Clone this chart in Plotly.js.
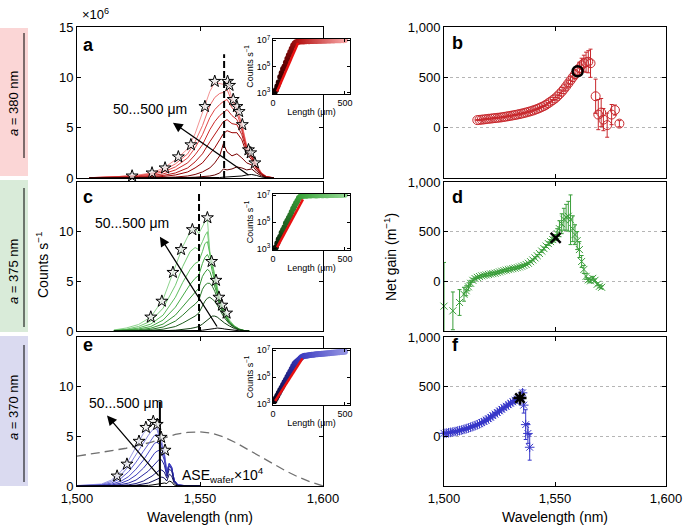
<!DOCTYPE html>
<html>
<head>
<meta charset="utf-8">
<script src="https://cdn.plot.ly/plotly-3.0.1.min.js"></script>
<style>body{margin:0;} #plotlyArea{width:685px;height:529px;}</style>
</head>
<body>
<div id="plotlyArea"></div>
<script>
// ---- spectra, left column (counts s^-1, x 1e6) ----
var wlA = [1505,1510,1515,1520,1525,1530,1535,1540,1545,1548,1551,1554,1556,1558,1559.5,1561,1563,1565,1567,1569,1571,1573,1575,1577,1580];
var specA = [
  [0,0,0,0,0,0,0,0,0,0,0.01,0.02,0.03,0.05,0.08,0.1,0.12,0.15,0.2,0.3,0.35,0.25,0.1,0.03,0],
  [0,0,0,0,0,0.01,0.02,0.03,0.05,0.08,0.12,0.2,0.3,0.5,0.9,0.8,0.9,1.1,1.0,0.8,0.9,0.5,0.2,0.05,0],
  [0,0,0,0.01,0.02,0.03,0.05,0.1,0.2,0.35,0.6,1.0,1.5,2.2,3.4,2.6,2.2,2.4,2.0,1.5,1.3,0.7,0.3,0.08,0],
  [0,0.01,0.02,0.03,0.05,0.08,0.15,0.3,0.6,1.0,1.5,2.4,3.0,3.8,4.4,4.7,4.5,4.5,3.8,2.4,1.8,0.9,0.35,0.1,0.01],
  [0.01,0.02,0.04,0.06,0.1,0.15,0.25,0.5,1.0,1.6,2.4,3.6,4.3,5.0,5.6,5.8,5.4,5.3,4.3,2.7,2.0,1.0,0.4,0.1,0.01],
  [0.02,0.04,0.07,0.1,0.15,0.25,0.4,0.8,1.5,2.3,3.3,4.8,5.6,6.2,6.5,6.8,6.2,5.8,4.7,2.9,2.1,1.1,0.45,0.12,0.02],
  [0.03,0.06,0.1,0.15,0.22,0.35,0.6,1.1,2.0,3.0,4.3,6.0,6.8,7.3,7.6,7.8,7.0,6.4,5.0,3.0,2.2,1.1,0.45,0.12,0.02],
  [0.03,0.07,0.11,0.18,0.27,0.42,0.75,1.4,2.4,3.6,5.2,7.2,8.0,8.4,8.5,8.8,7.6,6.8,5.3,3.1,2.3,1.2,0.5,0.15,0.02],
  [0.03,0.06,0.1,0.2,0.3,0.5,0.95,1.8,2.9,4.4,6.4,8.6,9.5,9.4,9.3,9.6,7.9,7.0,5.4,3.2,2.3,1.3,0.5,0.15,0.02]
];
var starWlA = [1522.4,1530.5,1535.8,1541.2,1546.3,1552,1556,1561.2,1562,1563.5,1565,1565.9,1567.2,1569.7,1570.6,1572.3];
var starA = [0.2,0.5,1.0,2.1,3.3,7.1,9.6,9.6,9.2,7.8,7.1,6.6,5.3,2.8,2.5,1.5];

var wlC = [1515,1520,1525,1530,1535,1540,1543,1546,1548,1549.5,1551,1552,1553,1554,1555,1556,1557,1558,1559,1560,1562,1564,1566,1568,1570];
var specC = [
  [0,0,0,0,0,0,0.01,0.02,0.03,0.05,0.08,0.1,0.12,0.15,0.2,0.25,0.3,0.3,0.25,0.2,0.12,0.06,0.02,0,0],
  [0,0,0,0.01,0.03,0.08,0.15,0.25,0.35,0.45,0.7,0.9,1.1,1.3,1.5,1.5,1.4,1.2,1.0,0.8,0.5,0.25,0.1,0.02,0],
  [0,0.01,0.03,0.07,0.18,0.45,0.8,1.2,1.5,1.8,2.6,3.0,3.3,3.4,3.2,3.0,2.6,2.1,1.7,1.3,0.7,0.35,0.12,0.02,0],
  [0.01,0.03,0.07,0.16,0.4,1.0,1.6,2.3,2.7,3.1,4.2,4.6,4.8,4.8,4.5,4.0,3.3,2.6,2.0,1.5,0.8,0.4,0.15,0.03,0],
  [0.02,0.05,0.12,0.28,0.7,1.6,2.5,3.4,3.9,4.3,5.5,5.9,6.2,6.0,5.3,4.6,3.7,2.8,2.2,1.6,0.85,0.4,0.15,0.03,0],
  [0.03,0.08,0.2,0.45,1.1,2.4,3.6,4.7,5.3,5.6,6.8,7.4,7.7,7.2,6.0,5.0,4.0,2.9,2.3,1.7,0.9,0.45,0.18,0.04,0],
  [0.05,0.12,0.3,0.7,1.6,3.4,4.9,6.2,6.8,7.0,8.0,8.8,9.0,7.6,6.5,5.3,4.2,3.0,2.4,1.8,0.9,0.45,0.18,0.04,0],
  [0.07,0.18,0.45,1.0,2.3,4.6,6.5,8.0,8.4,8.2,9.0,9.6,10.0,7.8,6.8,5.5,4.4,3.1,2.5,1.9,1.0,0.5,0.2,0.05,0],
  [0.1,0.3,0.65,1.4,3.2,6.5,8.5,10.0,10.3,9.8,10.5,11.0,11.3,8.0,6.8,5.6,4.6,3.3,2.6,2.0,1.1,0.5,0.2,0.05,0]
];
var starWlC = [1530,1534.5,1539,1542.3,1546.9,1553,1554.7,1556.5,1557.7,1558.9,1560.8];
var starC = [1.4,3.0,5.9,8.2,10.2,11.4,7.0,5.1,3.4,2.6,1.8];

var wlE = [1500,1510,1514,1518,1521,1524,1527,1529,1530.5,1531.5,1532.5,1533.5,1534.5,1535.5,1536.5,1537.5,1538.5,1539.5,1541,1545,1550];
var specE = [
  [0,0,0,0,0,0.01,0.03,0.06,0.1,0.15,0.2,0.25,0.3,0.3,0.25,0.5,0.4,0.1,0.02,0,0],
  [0,0,0,0.02,0.04,0.08,0.2,0.3,0.45,0.55,0.7,0.8,0.9,0.8,0.5,1.2,1.0,0.3,0.04,0,0],
  [0,0,0.02,0.06,0.12,0.25,0.5,0.75,1.0,1.2,1.4,1.6,1.6,1.4,0.8,1.7,1.5,0.45,0.06,0,0],
  [0,0.01,0.05,0.15,0.3,0.6,1.1,1.5,1.9,2.2,2.5,2.7,2.6,2.1,1.0,2.0,1.7,0.5,0.08,0.01,0],
  [0,0.03,0.1,0.3,0.6,1.1,1.8,2.4,2.9,3.3,3.5,3.6,3.3,2.6,1.2,2.2,1.8,0.6,0.1,0.01,0],
  [0.01,0.06,0.18,0.5,0.95,1.7,2.6,3.3,3.9,4.3,4.4,4.2,3.8,2.9,1.3,2.3,1.9,0.6,0.1,0.02,0],
  [0.02,0.1,0.3,0.8,1.45,2.4,3.5,4.2,4.8,5.1,5.2,4.6,4.1,3.1,1.4,2.3,1.9,0.6,0.1,0.02,0],
  [0.03,0.15,0.45,1.15,2.0,3.2,4.4,5.1,5.6,5.8,5.7,4.9,4.3,3.3,1.5,2.2,1.8,0.6,0.1,0.02,0],
  [0.05,0.2,0.6,1.5,2.6,4.0,5.3,5.9,6.3,6.2,6.0,5.2,4.5,3.4,1.5,2.2,1.8,0.6,0.1,0.02,0]
];
var starWlE = [1516.3,1520.3,1525.2,1528,1531,1532.6,1534.2,1535.8];
var starE = [1.0,2.2,4.5,5.9,6.5,6.2,4.9,3.6];

var aseWl = [1500,1505,1510,1515,1520,1525,1530,1535,1540,1545,1550,1555,1560,1565,1570,1575,1580,1585,1590,1595,1600];
var aseE = [3.0,3.2,3.4,3.6,3.8,4.1,4.4,4.8,5.2,5.4,5.45,5.3,4.9,4.3,3.6,2.9,2.2,1.5,0.9,0.4,0];

var laserWl = [1559.8, 1549.6, 1533.7];
var laserTop = [12.3, 14, 8.5];

// ---- insets: log10 counts vs length ----
var lenUm = [10,20,30,40,50,60,70,80,90,100,110,120,130,140,150,160,170,180,190,200,210,220,230,240,250,260,270,280,290,300,310,320,330,340,350,360,370,380,390,400,410,420,430,440,450,460,470,480,490,500];
var logA = [3.0,3.2,3.5,3.8,4.2,4.5,4.8,5.0,5.3,5.6,5.85,6.1,6.35,6.6,6.75,6.85,6.88,6.9,6.9,6.92,6.91,6.93,6.92,6.94,6.93,6.95,6.94,6.95,6.96,6.95,6.96,6.97,6.96,6.97,6.98,6.97,6.98,6.99,6.98,6.99,7.0,6.99,7.0,7.0,7.01,7.0,7.01,7.02,7.01,7.02];
var logC = [3.0,3.1,3.4,3.7,3.9,4.2,4.4,4.6,4.9,5.1,5.3,5.5,5.75,6.0,6.2,6.4,6.6,6.8,6.9,6.95,6.97,6.98,6.97,6.99,7.0,6.99,7.0,7.01,7.0,6.99,7.0,7.01,7.02,7.0,7.01,7.02,7.01,7.0,7.02,7.03,7.02,7.03,7.04,7.02,7.03,7.04,7.03,7.05,7.04,7.05];
var logE = [3.2,3.4,3.6,3.8,4.0,4.2,4.4,4.6,4.8,5.0,5.2,5.4,5.6,5.8,6.0,6.1,6.2,6.3,6.4,6.5,6.55,6.6,6.6,6.62,6.63,6.65,6.66,6.67,6.68,6.7,6.7,6.72,6.73,6.74,6.75,6.76,6.77,6.78,6.79,6.8,6.81,6.82,6.83,6.84,6.85,6.86,6.87,6.88,6.89,6.9];
var fitLenA = [28,174], fitLogA = [3.1,6.8];
var fitLenC = [28,208], fitLogC = [3.1,6.7];
var fitLenE = [15,205], fitLogE = [3.2,6.4];

// ---- net gain, right column (m^-1) ----
var bWl = [1515,1516,1517,1518,1519,1520,1521,1522,1523,1524,1525,1526,1527,1528,1529,1530,1531,1532,1533,1534,1535,1536,1537,1538,1539,1540,1541,1542,1543,1544,1545,1546,1547,1548,1549,1550,1551,1552,1553,1554,1555,1556,1557,1558,1559,1560,1561,1562,1563,1564,1565,1566,1568.3,1569.5,1570.8,1571.8,1573.5,1575.5,1577,1579];
var bGain = [75,77,80,82,85,88,90,93,95,98,100,103,107,110,114,118,122,126,130,135,140,145,151,157,163,170,178,186,195,205,215,228,243,258,274,290,310,332,356,382,410,440,470,500,530,560,590,620,640,650,655,640,312,130,150,80,25,130,175,40];
var bErr = [5,5,5,5,5,5,5,5,5,5,5,5,5,5,5,5,5,5,5,5,5,5,5,5,5,5,5,5,5,5,5,5,5,5,5,10,12,15,18,20,25,30,35,40,45,50,60,70,80,100,110,140,170,150,140,110,120,100,50,30];
var bMark = [1560.2], bMarkGain = [560];

var dWl = [1500,1504,1507,1509,1510,1511,1512,1513,1514,1515,1516,1517,1518,1519,1520,1521,1522,1523,1524,1525,1526,1527,1528,1529,1530,1531,1532,1533,1534,1535,1536,1537,1538,1539,1540,1541,1542,1543,1544,1545,1546,1547,1548,1549,1550,1551,1552,1553,1554,1555,1556,1557,1558,1559,1560,1561,1562,1563,1564,1565,1566,1567,1568,1569,1570,1571];
var dGain = [-250,-297,-213,-130,-95,-55,-20,10,28,40,48,55,60,65,70,74,78,82,88,95,102,108,113,118,123,128,133,138,145,152,160,170,182,198,215,236,258,280,305,330,355,380,400,420,440,480,530,580,625,645,655,620,530,470,410,320,200,120,50,15,5,30,10,-30,-50,-60];
var dErr = [440,190,130,70,50,40,30,20,15,12,10,10,10,10,10,10,10,10,10,10,10,10,10,10,10,10,10,10,10,10,10,10,10,10,10,10,10,12,12,15,15,18,20,25,30,50,80,100,110,130,150,250,130,100,90,80,60,40,30,20,20,20,15,15,15,15];
var dMark = [1550.3], dMarkGain = [437];

var fWl = [1500,1501,1502,1503,1504,1505,1506,1507,1508,1509,1510,1511,1512,1513,1514,1515,1516,1517,1518,1519,1520,1521,1522,1523,1524,1525,1526,1527,1528,1529,1530,1531,1532,1533,1534,1535.4,1535.9,1536.8,1537.8,1538.6];
var fGain = [30,33,36,40,44,48,53,58,64,70,77,84,92,100,108,117,127,138,150,163,177,192,208,224,240,256,272,288,303,318,333,348,362,375,385,438,314,118,29,-110];
var fErr = [5,5,5,5,5,5,5,5,5,5,5,5,5,5,5,5,5,5,5,5,5,5,5,5,5,5,5,5,5,5,8,10,12,15,20,30,80,150,100,130];
var fMark = [1534.2], fMarkGain = [385];

var wlTicks = [1500, 1550, 1600];

// ---- geometry helpers (pixels -> paper) ----
var W = 685, H = 529;
function fx(p) { return p / W; }
function fy(p) { return 1 - p / H; }
var leftX = [fx(77), fx(323)], rightX = [fx(444), fx(666)];
var rowA = [fy(178), fy(27)], rowC = [fy(331), fy(182)], rowE = [fy(486), fy(337)];
var insX = [fx(273), fx(350)];
var insA = [fy(94), fy(39)], insC = [fy(250), fy(194)], insE = [fy(405), fy(349)];

var redLines = ['#000000','#5c0000','#7a0000','#990000','#b51515','#cc2a2a','#e04545','#ec6a6a','#f39494'];
var greenLines = ['#000000','#0f3d0f','#1e5c1e','#2a7a2a','#359535','#45aa45','#5cbd5c','#74c974','#8ed48e'];
var blueLines = ['#000000','#10105a','#1a1a80','#2828a0','#3737b8','#4a4ac8','#6060d4','#7c7cdc','#9a9ae4'];

var data = [];

function addSpectra(wl, rows, colors, xa, ya) {
    for (var i = rows.length - 1; i >= 0; i--) {
        data.push({x: wl, y: rows[i], mode: 'lines', line: {color: colors[i], width: 1},
            xaxis: xa, yaxis: ya, hoverinfo: 'skip'});
    }
}
function addStars(wl, v, xa, ya) {
    data.push({x: wl, y: v, mode: 'markers', xaxis: xa, yaxis: ya, cliponaxis: false,
        marker: {symbol: 'star', size: 9, color: 'rgba(235,235,235,0.7)', line: {color: '#000', width: 1}}});
}
function addLaser(i, xa, ya, dash) {
    data.push({x: [laserWl[i], laserWl[i]], y: [0, laserTop[i]], mode: 'lines', xaxis: xa, yaxis: ya,
        line: {color: '#000', width: 2, dash: dash}});
}

addSpectra(wlA, specA, redLines, 'x', 'y');
addLaser(0, 'x', 'y', '7px,3px');
addStars(starWlA, starA, 'x', 'y');

addSpectra(wlC, specC, greenLines, 'x3', 'y3');
addLaser(1, 'x3', 'y3', '7px,3px');
addStars(starWlC, starC, 'x3', 'y3');

data.push({x: aseWl, y: aseE, mode: 'lines', xaxis: 'x5', yaxis: 'y5',
    line: {color: '#707070', width: 1.3, dash: '9px,5px'}});
addSpectra(wlE, specE, blueLines, 'x5', 'y5');
addLaser(2, 'x5', 'y5', 'solid');
addStars(starWlE, starE, 'x5', 'y5');

// insets
function addInset(len, lg, fitL, fitG, scale, xa, ya) {
    data.push({x: len, y: lg, mode: 'markers', xaxis: xa, yaxis: ya,
        marker: {size: 6, color: len, cmin: 0, cmax: 500, colorscale: scale, showscale: false}});
    data.push({x: fitL, y: fitG, mode: 'lines', xaxis: xa, yaxis: ya, line: {color: '#e81010', width: 2.5}});
}
addInset(lenUm, logA, fitLenA, fitLogA, [[0,'#000000'],[0.15,'#5a0000'],[0.4,'#b81818'],[1,'#f4a0a0']], 'x7', 'y7');
addInset(lenUm, logC, fitLenC, fitLogC, [[0,'#000000'],[0.15,'#1d5a1d'],[0.4,'#3aa43a'],[1,'#8ed48e']], 'x8', 'y8');
addInset(lenUm, logE, fitLenE, fitLogE, [[0,'#000000'],[0.15,'#1a1a70'],[0.4,'#3a3ac0'],[1,'#9090e0']], 'x9', 'y9');

// net gain panels
function gainTrace(wl, g, err, color, symbol, size, xa, ya) {
    return {x: wl, y: g, mode: 'markers', xaxis: xa, yaxis: ya, cliponaxis: false,
        error_y: {type: 'data', array: err, color: color, thickness: 1, width: 2},
        marker: {symbol: symbol, size: size, color: color, line: {color: color, width: 1}}};
}
data.push(gainTrace(bWl, bGain, bErr, '#c8282d', 'circle-open', 9, 'x2', 'y2'));
data.push({x: bMark, y: bMarkGain, mode: 'markers', xaxis: 'x2', yaxis: 'y2',
    marker: {symbol: 'circle-open', size: 10, color: '#000', line: {color: '#000', width: 2.5}}});
data.push(gainTrace(dWl, dGain, dErr, '#3a9e3a', 'x-thin-open', 7, 'x4', 'y4'));
data.push({x: dMark, y: dMarkGain, mode: 'markers', xaxis: 'x4', yaxis: 'y4',
    marker: {symbol: 'x-thin-open', size: 10, color: '#000', line: {color: '#000', width: 2.5}}});
data.push(gainTrace(fWl, fGain, fErr, '#3636c8', 'asterisk-open', 8, 'x6', 'y6'));
data.push({x: fMark, y: fMarkGain, mode: 'markers', xaxis: 'x6', yaxis: 'y6',
    marker: {symbol: 'asterisk-open', size: 11, color: '#000', line: {color: '#000', width: 2.5}}});

// ---- layout ----
var font = 'Liberation Sans, Arial, Helvetica, sans-serif';
function axis(o) {
    var a = {showline: true, linecolor: '#000', linewidth: 1, mirror: 'ticks', ticks: 'inside', ticklen: 4,
        tickcolor: '#000', tickwidth: 1, showgrid: false, zeroline: false, tickfont: {size: 13, color: '#000'}};
    for (var k in o) a[k] = o[k];
    return a;
}
function gainAxis(dom, anchor) {
    return axis({domain: dom, anchor: anchor, range: [-500, 1000], tickvals: [0, 500, 1000], tickformat: ',',
        showgrid: true, gridcolor: '#b5b5b5', griddash: 'dot', gridwidth: 1});
}
function insetX(anchor) {
    return axis({domain: insX, anchor: anchor, range: [0, 535], tickvals: [0, 500], ticklen: 3,
        tickfont: {size: 9, color: '#000'}, title: {text: 'Length (μm)', font: {size: 9, color: '#000'}, standoff: 1}});
}
function insetY(dom, anchor) {
    return axis({domain: dom, anchor: anchor, range: [2.9, 7.1], tickvals: [3, 5, 7],
        ticktext: ['10<sup>3</sup>', '10<sup>5</sup>', '10<sup>7</sup>'], ticklen: 3,
        tickfont: {size: 9, color: '#000'}, title: {text: 'Counts s<sup>−1</sup>', font: {size: 9, color: '#000'}, standoff: 1}});
}

var layout = {
    width: W, height: H, margin: {l: 0, r: 0, t: 0, b: 0},
    paper_bgcolor: '#fff', plot_bgcolor: 'rgba(0,0,0,0)', showlegend: false,
    font: {family: font, color: '#000', size: 13},
    xaxis: axis({domain: leftX, anchor: 'y', range: [1500, 1600], tickvals: wlTicks, showticklabels: false}),
    yaxis: axis({domain: rowA, anchor: 'x', range: [0, 15], tickvals: [0, 5, 10, 15]}),
    xaxis2: axis({domain: rightX, anchor: 'y2', range: [1500, 1600], tickvals: wlTicks, showticklabels: false}),
    yaxis2: gainAxis(rowA, 'x2'),
    xaxis3: axis({domain: leftX, anchor: 'y3', range: [1500, 1600], tickvals: wlTicks, showticklabels: false}),
    yaxis3: axis({domain: rowC, anchor: 'x3', range: [0, 15], tickvals: [0, 5, 10]}),
    xaxis4: axis({domain: rightX, anchor: 'y4', range: [1500, 1600], tickvals: wlTicks, showticklabels: false}),
    yaxis4: gainAxis(rowC, 'x4'),
    xaxis5: axis({domain: leftX, anchor: 'y5', range: [1500, 1600], tickvals: wlTicks, tickformat: ',',
        title: {text: 'Wavelength (nm)', font: {size: 14}, standoff: 7}}),
    yaxis5: axis({domain: rowE, anchor: 'x5', range: [0, 15], tickvals: [0, 5, 10]}),
    xaxis6: axis({domain: rightX, anchor: 'y6', range: [1500, 1600], tickvals: wlTicks, tickformat: ',',
        title: {text: 'Wavelength (nm)', font: {size: 14}, standoff: 7}}),
    yaxis6: gainAxis(rowE, 'x6'),
    xaxis7: insetX('y7'), yaxis7: insetY(insA, 'x7'),
    xaxis8: insetX('y8'), yaxis8: insetY(insC, 'x8'),
    xaxis9: insetX('y9'), yaxis9: insetY(insE, 'x9'),
    shapes: [],
    annotations: []
};

// side colour bars
var bands = [[28, 176, '#fbd6d6'], [180, 332, '#d9ebd9'], [336, 486, '#dadaf0']];
var bandLines = [[33, 158], [188, 327], [345, 482]];
bands.forEach(function(b, i) {
    layout.shapes.push({type: 'rect', xref: 'paper', yref: 'paper', layer: 'below',
        x0: 0, x1: fx(28), y0: fy(b[1]), y1: fy(b[0]), fillcolor: b[2], line: {width: 0}});
    layout.shapes.push({type: 'line', xref: 'paper', yref: 'paper',
        x0: fx(24), x1: fx(24), y0: fy(bandLines[i][1]), y1: fy(bandLines[i][0]), line: {color: '#000', width: 1}});
});
// opaque inset backgrounds
['7', '8', '9'].forEach(function(n) {
    layout.shapes.push({type: 'rect', xref: 'x' + n, yref: 'y' + n, layer: 'below',
        x0: 0, x1: 535, y0: 2.9, y1: 7.1, fillcolor: '#fff', line: {width: 0}});
});

function note(text, x, y, extra) {
    var a = {text: text, xref: 'paper', yref: 'paper', x: fx(x), y: fy(y), showarrow: false,
        xanchor: 'center', yanchor: 'middle', font: {size: 13, color: '#000'}};
    for (var k in extra) a[k] = extra[k];
    layout.annotations.push(a);
}
note('<i>a</i> = 380 nm', 13, 104, {textangle: -90});
note('<i>a</i> = 375 nm', 13, 272, {textangle: -90});
note('<i>a</i> = 370 nm', 13, 408, {textangle: -90});
note('<b>a</b>', 88, 45, {font: {size: 18}});
note('<b>b</b>', 457, 43, {font: {size: 18}});
note('<b>c</b>', 88, 197, {font: {size: 18}});
note('<b>d</b>', 457, 197, {font: {size: 18}});
note('<b>e</b>', 88, 345, {font: {size: 18}});
note('<b>f</b>', 455, 345, {font: {size: 18}});
note('×10<sup>6</sup>', 95, 14);
note('Counts s<sup>−1</sup>', 42, 265, {textangle: -90, font: {size: 14}});
note('Net gain (m<sup>−1</sup>)', 390, 257, {textangle: -90, font: {size: 14}});

// arrows + length labels (data coordinates)
var arrowAxes = [['x', 'y'], ['x3', 'y3'], ['x5', 'y5']];
var arrowHeadWl = [1539, 1533.7, 1512.2], arrowHeadV = [5.5, 9.5, 7.1];
var arrowTailWl = [1570.3, 1557.3, 1533.7], arrowTailV = [0.2, 0.3, 0.9];
var labelWl = [1529.7, 1522.4, 1520], labelV = [6.9, 10.9, 8.4];
arrowAxes.forEach(function(ax, i) {
    layout.annotations.push({xref: ax[0], yref: ax[1], axref: ax[0], ayref: ax[1],
        x: arrowHeadWl[i], y: arrowHeadV[i], ax: arrowTailWl[i], ay: arrowTailV[i], text: '',
        showarrow: true, arrowhead: 2, arrowsize: 1.5, arrowwidth: 1.3, arrowcolor: '#000'});
    layout.annotations.push({xref: ax[0], yref: ax[1], x: labelWl[i], y: labelV[i],
        text: '50...500 μm', showarrow: false, font: {size: 14, color: '#000'}});
});
layout.annotations.push({xref: 'x5', yref: 'y5', x: 1542, y: 1.1, xanchor: 'left', yanchor: 'middle',
    text: 'ASE<sub>wafer</sub>×10<sup>4</sup>', showarrow: false, font: {size: 14, color: '#000'}});

Plotly.newPlot('plotlyArea', data, layout, {displayModeBar: false, staticPlot: true});
</script>
</body>
</html>
